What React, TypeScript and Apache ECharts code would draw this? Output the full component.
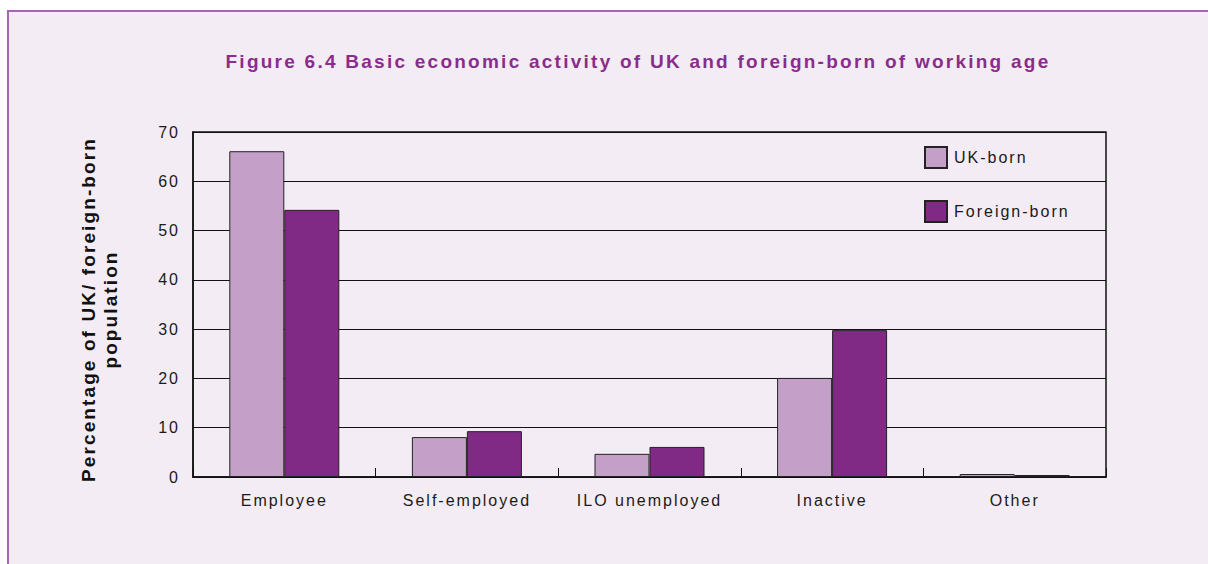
import React, { useEffect, useRef } from "react";
import * as echarts from "echarts";

const categories = ["Employee", "Self-employed", "ILO unemployed", "Inactive", "Other"];
const ukBorn = [66.1, 8.1, 4.7, 20.1, 0.6];
const foreignBorn = [54.2, 9.3, 6.1, 29.8, 0.4];
const seriesNames = ["UK-born", "Foreign-born"];
const titleText = "Figure 6.4 Basic economic activity of UK and foreign-born of working age";
const yNameLines = ["Percentage of UK/ foreign-born", "population"];

export default function App() {
  const ref = useRef<HTMLDivElement>(null);
  useEffect(() => {
    if (!ref.current) return;
    const el = ref.current;
    const chart = echarts.init(el, undefined, { renderer: "svg" });
    const font = "'Liberation Sans', Arial, sans-serif";
    const applySpacing = () => {
      el.querySelectorAll("text").forEach((t) => {
        const s = (t.textContent || "").trim();
        let ls = 2;
        if (s === titleText) ls = 2.25;
        else if (yNameLines.indexOf(s) >= 0) ls = 2.1;
        (t as SVGTextElement).style.letterSpacing = ls + "px";
      });
    };
    chart.on("finished", applySpacing);
    chart.setOption({
      animation: false,
      backgroundColor: "#ffffff",
      graphic: [
        {
          type: "rect",
          z: -10,
          shape: { x: 8, y: 11, width: 1300, height: 700 },
          style: { fill: "#F4ECF4", stroke: "#A565B4", lineWidth: 2 },
        },
      ],
      title: {
        text: titleText,
        left: 633,
        textAlign: "center",
        top: 47,
        textStyle: { fontFamily: font, fontSize: 19, fontWeight: "bold", color: "#8A2C8C" },
      },
      legend: {
        orient: "vertical",
        left: 924,
        top: 146,
        padding: 0,
        icon: "rect",
        itemWidth: 22,
        itemHeight: 21,
        itemGap: 31,
        data: seriesNames,
        textStyle: { fontFamily: font, fontSize: 16, color: "#1a1a1a", padding: [0, 0, 0, 2] },
      },
      grid: {
        left: 193,
        top: 132,
        right: 102,
        bottom: 87,
        show: true,
        borderColor: "#111",
        borderWidth: 1.5,
        backgroundColor: "transparent",
      },
      xAxis: {
        type: "category",
        data: categories,
        axisLine: { lineStyle: { color: "#111", width: 1.5 } },
        axisTick: { show: true, inside: true, length: 9, lineStyle: { color: "#111" } },
        axisLabel: { fontFamily: font, fontSize: 16, color: "#1a1a1a", margin: 15 },
      },
      yAxis: {
        type: "value",
        min: 0,
        max: 70,
        interval: 10,
        name: yNameLines.join("\n"),
        nameLocation: "middle",
        nameRotate: 90,
        nameGap: 72,
        nameTextStyle: {
          fontFamily: font,
          fontSize: 19,
          fontWeight: "bold",
          color: "#111",
          lineHeight: 22,
          padding: [0, 10, 0, 0],
        },
        axisLine: { show: true, lineStyle: { color: "#111", width: 1.5 } },
        axisTick: { show: false },
        axisLabel: { fontFamily: font, fontSize: 16, color: "#1a1a1a", margin: 13 },
        splitLine: { show: true, lineStyle: { color: "#111", width: 1 } },
      },
      series: [
        {
          name: seriesNames[0],
          type: "bar",
          data: ukBorn,
          barWidth: 55,
          barGap: "0%",
          itemStyle: { color: "#C4A0C8", borderColor: "#222", borderWidth: 1 },
        },
        {
          name: seriesNames[1],
          type: "bar",
          data: foreignBorn,
          barWidth: 55,
          barGap: "0%",
          itemStyle: { color: "#802A86", borderColor: "#222", borderWidth: 1 },
        },
      ],
    });
    applySpacing();
    const timer = setTimeout(applySpacing, 50);
    return () => {
      clearTimeout(timer);
      chart.dispose();
    };
  }, []);
  return (
    <div
      ref={ref}
      style={{ position: "absolute", left: 0, top: 0, width: 1208, height: 564 }}
    />
  );
}
